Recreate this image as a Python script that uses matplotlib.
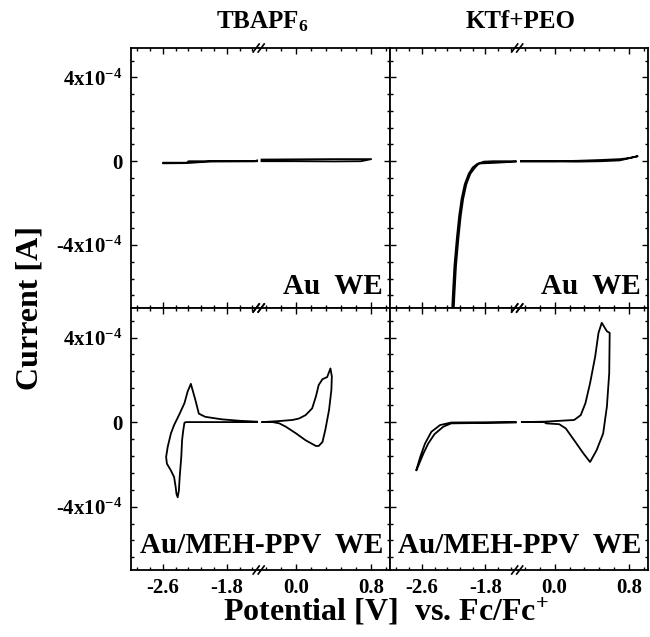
import matplotlib
matplotlib.use("Agg")
import matplotlib.pyplot as plt
from matplotlib.lines import Line2D
from matplotlib.ticker import MultipleLocator, AutoMinorLocator, FuncFormatter

plt.rcParams['font.family'] = ['Liberation Serif', 'DejaVu Serif']
plt.rcParams['font.weight'] = 'bold'
plt.rcParams['axes.unicode_minus'] = False
plt.rcParams['mathtext.fontset'] = 'custom'
plt.rcParams['mathtext.rm'] = 'Liberation Serif:bold'
plt.rcParams['mathtext.bf'] = 'Liberation Serif:bold'
plt.rcParams['mathtext.it'] = 'Liberation Serif:bold'

# currents in units of 1e-4 A, potentials in V vs Fc/Fc+
# TBAPF6, Au WE
tb_au_neg_v = [-1.42, -1.45, -2.0, -2.28, -2.30, -2.6, -2.6, -2.30, -2.0, -1.42]
tb_au_neg_i = [0.04, 0.0, 0.0, 0.0, -0.07, -0.07, -0.10, -0.09, -0.01, 0.0]
tb_au_pos_v = [-0.37, 0.0, 0.4, 0.69, 0.8, 0.69, 0.4, 0.0, -0.37]
tb_au_pos_i = [0.08, 0.09, 0.1, 0.1, 0.1, 0.0, -0.01, 0.0, 0.0]

# KTf+PEO, Au WE
kt_au_neg_v = [-1.42, -1.7, -1.82, -1.88, -1.93, -1.99, -2.04, -2.08, -2.11, -2.14, -2.17, -2.19, -2.21,
               -2.23, -2.21, -2.19, -2.16, -2.13, -2.10, -2.06, -2.01, -1.96, -1.90, -1.84, -1.7, -1.42]
kt_au_neg_i = [0.0, 0.0, -0.02, -0.1, -0.3, -0.6, -1.1, -1.8, -2.6, -3.7, -5.0, -6.4, -8.0,
               -8.0, -6.4, -5.0, -3.7, -2.6, -1.8, -1.1, -0.6, -0.3, -0.12, -0.1, -0.08, -0.02]
kt_au_pos_v = [-0.36, 0.0, 0.24, 0.5, 0.7, 0.8, 0.89, 0.85, 0.7, 0.5, 0.24, 0.0, -0.36]
kt_au_pos_i = [0.0, 0.0, 0.02, 0.06, 0.1, 0.15, 0.24, 0.2, 0.04, 0.0, -0.02, -0.01, -0.01]

# TBAPF6, Au/MEH-PPV WE
tb_pp_neg_v = [-1.42, -1.63, -1.86, -2.07, -2.15, -2.19, -2.25, -2.29, -2.33, -2.39, -2.46, -2.50, -2.54,
               -2.56, -2.55, -2.50, -2.46, -2.44, -2.43, -2.415, -2.40, -2.39, -2.37, -2.36, -2.345,
               -2.33, -2.31, -1.86, -1.42]
tb_pp_neg_i = [0.02, 0.06, 0.13, 0.25, 0.4, 1.0, 1.81, 1.45, 0.9, 0.4, -0.14, -0.54, -1.17,
               -1.65, -1.97, -2.29, -2.6, -3.08, -3.4, -3.56, -3.24, -2.6, -1.65, -0.86, -0.38,
               -0.03, 0.0, 0.0, 0.0]
tb_pp_pos_v = [-0.36, -0.18, -0.04, 0.03, 0.10, 0.17, 0.21, 0.24, 0.28, 0.33, 0.365, 0.38, 0.375, 0.35,
               0.31, 0.28, 0.24, 0.21, 0.10, 0.0, -0.11, -0.18, -0.25, -0.36]
tb_pp_pos_i = [0.0, 0.05, 0.1, 0.17, 0.33, 0.65, 1.21, 1.76, 2.03, 2.13, 2.54, 2.16, 1.52, 0.57,
               -0.38, -0.94, -1.13, -1.13, -0.86, -0.54, -0.22, -0.06, 0.0, 0.0]

# KTf+PEO, Au/MEH-PPV WE
kt_pp_neg_v = [-1.42, -2.23, -2.37, -2.48, -2.56, -2.62, -2.67,
               -2.66, -2.58, -2.52, -2.44, -2.33, -2.23, -1.42]
kt_pp_neg_i = [0.0, -0.02, -0.14, -0.46, -1.02, -1.65, -2.29,
               -2.21, -1.49, -1.02, -0.57, -0.22, -0.06, -0.02]
kt_pp_pos_v = [-0.35, -0.11, 0.21, 0.28, 0.33, 0.38, 0.435, 0.47, 0.505, 0.56, 0.59, 0.585, 0.56,
               0.52, 0.45, 0.38, 0.31, 0.21, 0.12, 0.05, -0.09, -0.11, -0.35]
kt_pp_pos_i = [0.0, 0.02, 0.1, 0.33, 0.89, 1.84, 3.11, 4.22, 4.7, 4.3, 4.22, 2.32, 0.73,
               -0.54, -1.33, -1.89, -1.49, -0.86, -0.3, -0.1, -0.06, 0.0, 0.0]

col_titles = ['TBAPF$_{6}$', 'KTf+PEO']
row_labels = ['Au  WE', 'Au/MEH-PPV  WE']

W, H = 650, 637
fig = plt.figure(figsize=(W / 100, H / 100), dpi=100)

col_px = [(131, 390), (390, 648)]
row_px = [(48, 308), (308, 570)]
brk = 0.493


def fx(px):
    return px / W


def fy(py):
    return 1 - py / H


def ylab(v, pos):
    k = int(round(v / 1e-4))
    if k == 0:
        return '0'
    return f'{k}x10$^{{-4}}$'


panels = [
    [(tb_au_neg_v, tb_au_neg_i, tb_au_pos_v, tb_au_pos_i),
     (kt_au_neg_v, kt_au_neg_i, kt_au_pos_v, kt_au_pos_i)],
    [(tb_pp_neg_v, tb_pp_neg_i, tb_pp_pos_v, tb_pp_pos_i),
     (kt_pp_neg_v, kt_pp_neg_i, kt_pp_pos_v, kt_pp_pos_i)],
]

for r, (y0, y1) in enumerate(row_px):
    for c, (x0, x1) in enumerate(col_px):
        xb = x0 + brk * (x1 - x0)
        neg_v, neg_i, pos_v, pos_i = panels[r][c]
        axl = fig.add_axes([fx(x0), fy(y1), fx(xb - x0), (y1 - y0) / H])
        axr = fig.add_axes([fx(xb), fy(y1), fx(x1 - xb), (y1 - y0) / H])

        axl.plot(neg_v, [i * 1e-4 for i in neg_i], color='black', lw=1.3)
        axr.plot(pos_v, [i * 1e-4 for i in pos_i], color='black', lw=1.3)
        axl.set_xlim(-3.0, -1.4)
        axr.set_xlim(-0.4, 1.0)
        # majors at -2.6, -1.8 on the left piece and 0.0, 0.8 on the right piece
        axl.xaxis.set_major_locator(MultipleLocator(0.8, offset=0.6))
        axr.xaxis.set_major_locator(MultipleLocator(0.8))

        for ax in (axl, axr):
            ax.set_ylim(-7.0e-4, 5.4e-4)
            ax.xaxis.set_minor_locator(AutoMinorLocator(5))
            ax.yaxis.set_major_locator(MultipleLocator(4e-4))
            ax.yaxis.set_minor_locator(AutoMinorLocator(5))
            ax.yaxis.set_major_formatter(FuncFormatter(ylab))
            ax.xaxis.set_major_formatter(FuncFormatter(lambda v, p: f'{v:.1f}'))
            ax.tick_params(which='both', direction='in', top=True, bottom=True,
                           width=1.0, labelsize=15, pad=6)
            ax.tick_params(which='major', length=4)
            ax.tick_params(which='minor', length=2.2)
            for s in ax.spines.values():
                s.set_linewidth(1.3)
            if r == 0:
                ax.tick_params(labelbottom=False)

        axl.spines['right'].set_visible(False)
        axr.spines['left'].set_visible(False)
        axl.tick_params(axis='y', which='both', left=True, right=False, labelleft=(c == 0))
        axr.tick_params(axis='y', which='both', left=False, right=True,
                        labelleft=False, labelright=False)

        # break marks
        for yy in (y0, y1):
            for off in (-2.5, 2.5):
                fig.add_artist(Line2D([fx(xb + off - 3), fx(xb + off + 3)],
                                      [fy(yy + 4), fy(yy - 4)],
                                      color='black', lw=1.2))

        # panel annotation
        if r == 0:
            fig.text(fx(x1 - 7), fy(294), row_labels[r], ha='right', va='baseline',
                     fontsize=21, fontweight='bold')
        else:
            fig.text(fx((x0 + x1) / 2 + 1), fy(553), row_labels[r], ha='center', va='baseline',
                     fontsize=21, fontweight='bold')

for c, (x0, x1) in enumerate(col_px):
    fig.text(fx((x0 + x1) / 2 + 2), fy(22), col_titles[c], ha='center', va='center',
             fontsize=18, fontweight='bold')

fig.text(fx(386), fy(612), 'Potential [V]  vs. Fc/Fc$^{+}$', ha='center', va='center',
         fontsize=23, fontweight='bold')
fig.text(fx(30), fy(308), 'Current [A]', ha='center', va='center', rotation=90,
         fontsize=23, fontweight='bold')

fig.savefig('out.png', dpi=100)
